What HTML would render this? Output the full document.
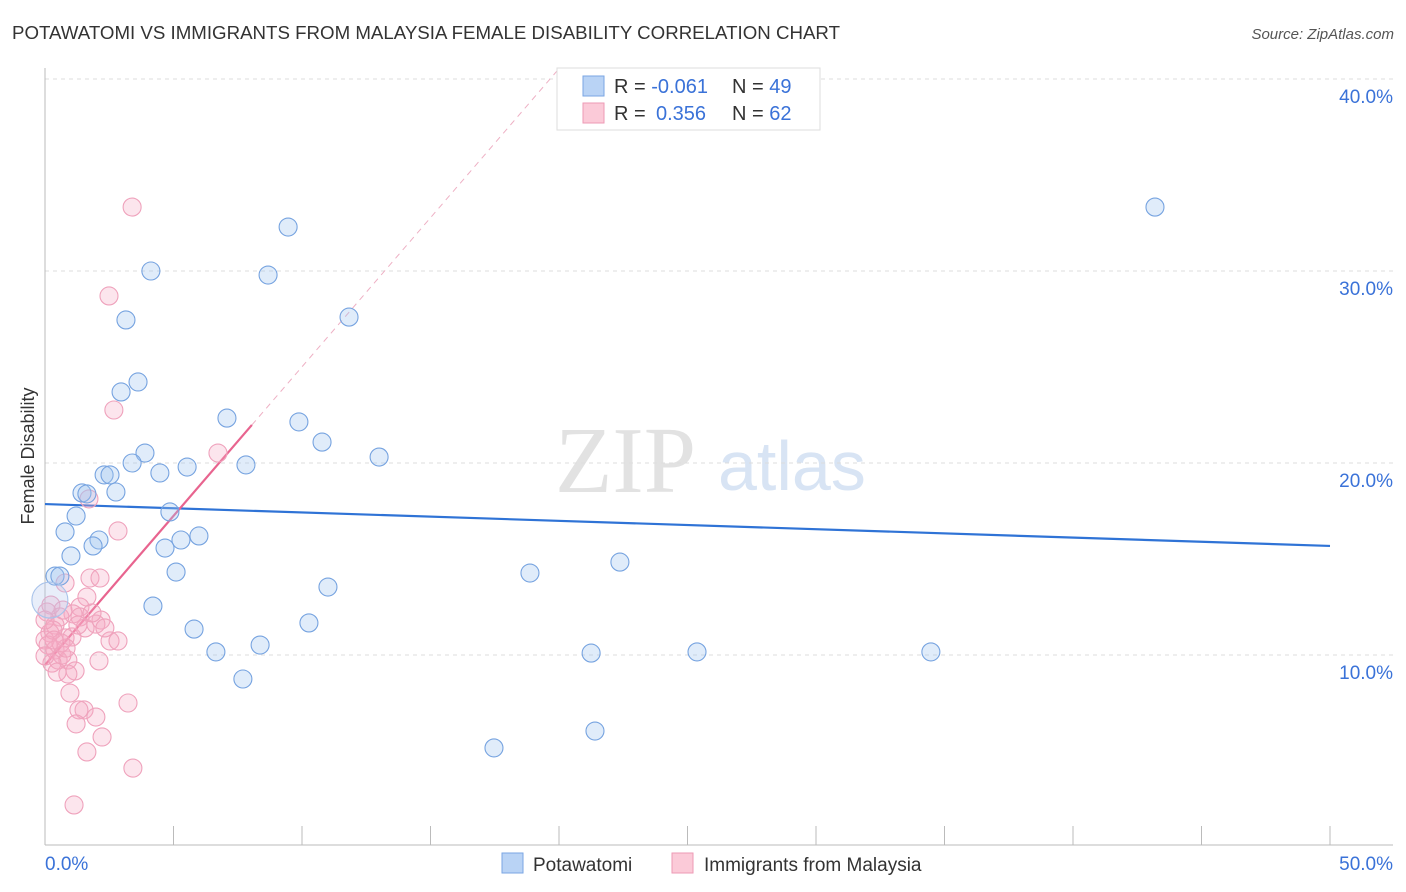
<!DOCTYPE html>
<html><head><meta charset="utf-8"><style>
body{margin:0;background:#fff;font-family:"Liberation Sans",sans-serif;}
svg{display:block}
</style></head><body>
<svg id="chart" width="1406" height="892">
<text x="12" y="39" font-size="18" fill="#333" textLength="828" lengthAdjust="spacingAndGlyphs">POTAWATOMI VS IMMIGRANTS FROM MALAYSIA FEMALE DISABILITY CORRELATION CHART</text>
<text x="1394" y="39" font-size="15" fill="#555" font-style="italic" text-anchor="end">Source: ZipAtlas.com</text>
<text x="555" y="492" font-size="94" fill="#e2e2e2" font-family="Liberation Serif,serif">ZIP</text>
<text x="718" y="490" font-size="70" fill="#d8e4f4">atlas</text>
<text transform="translate(34,456) rotate(-90)" font-size="18" fill="#333" text-anchor="middle">Female Disability</text>
<g id="grid"></g><g id="axes"></g><g id="lines"></g><g id="pts"></g>
<g>
<rect x="557" y="68" width="263" height="62" fill="#fff" stroke="#ddd"/>
<rect x="583" y="76" width="21" height="20" fill="#b9d3f5" stroke="#7aa6e3"/>
<rect x="583" y="103" width="21" height="20" fill="#fbcad8" stroke="#ee9ab5"/>
<text x="614" y="93" font-size="20" fill="#333">R = <tspan fill="#3a72d8">-0.061</tspan><tspan x="732">N = </tspan><tspan fill="#3a72d8">49</tspan></text>
<text x="614" y="120" font-size="20" fill="#333">R = <tspan x="656" fill="#3a72d8">0.356</tspan><tspan x="732">N = </tspan><tspan fill="#3a72d8">62</tspan></text>
</g>
<g>
<rect x="502" y="853" width="21" height="20" fill="#b9d3f5" stroke="#7aa6e3"/>
<text x="533" y="871" font-size="19" fill="#333">Potawatomi</text>
<rect x="672" y="853" width="21" height="20" fill="#fbcad8" stroke="#ee9ab5"/>
<text x="704" y="871" font-size="19" fill="#333">Immigrants from Malaysia</text>
</g>
</svg>
<script>
const xTicks=[0,5,10,15,20,25,30,35,40,45,50];
const yTicks=[10,20,30,40];
const yTickLabels=["10.0%","20.0%","30.0%","40.0%"];
const xTickLabels=["0.0%","50.0%"];
const blueX=[43.19,9.46,4.12,8.68,3.15,11.83,3.62,2.96,7.08,9.88,10.78,3.89,13.0,3.39,7.82,5.53,4.47,2.30,2.53,1.44,1.63,2.76,1.21,4.86,0.78,2.10,1.87,5.29,5.99,4.67,1.01,5.10,0.39,0.58,11.01,18.87,22.37,4.20,10.27,5.80,6.65,8.37,7.70,21.25,25.37,34.47,17.47,21.40,0.19];
const blueY=[33.33,32.29,30.0,29.79,27.45,27.60,24.22,23.70,22.34,22.14,21.09,20.52,20.31,20.0,19.90,19.79,19.48,19.38,19.38,18.44,18.39,18.49,17.24,17.45,16.41,15.99,15.68,15.99,16.20,15.57,15.16,14.32,14.11,14.11,13.54,14.27,14.84,12.55,11.67,11.35,10.16,10.52,8.75,10.10,10.16,10.16,5.16,6.04,12.86];
const pinkX=[3.39,2.49,2.68,6.73,1.71,2.84,0.78,1.75,2.14,1.63,0.23,1.36,1.09,0.58,2.18,1.98,1.56,0.39,0.19,0.78,1.05,0.0,0.12,1.36,2.53,2.84,0.39,0.66,0.51,0.89,0.27,2.10,1.17,0.89,0.97,3.23,1.52,1.32,1.98,1.21,2.22,1.63,3.42,1.13,0.08,0.31,0.62,0.0,0.82,1.83,1.28,0.47,2.33,0.0,0.70,0.35];
const pinkY=[33.33,28.70,22.76,20.52,18.13,16.46,13.75,14.01,14.01,13.02,12.60,12.50,12.14,11.98,11.82,11.61,11.41,11.56,11.15,10.89,10.94,10.78,10.52,11.98,10.73,10.73,10.26,10.0,9.74,9.74,9.58,9.69,9.17,9.01,8.02,7.50,7.14,7.14,6.77,6.41,5.73,4.95,4.11,2.19,12.24,11.30,10.63,9.95,10.36,12.19,11.56,9.11,11.41,11.82,12.34,10.78];
const blueTrend=[17.86,15.68];
const pinkTrend=[9.48,1.553];
const NS="http://www.w3.org/2000/svg";
const sx=v=>45+v*25.7, sy=v=>847-v*19.2;
function mk(p,tag,at){const e=document.createElementNS(NS,tag);for(const k in at)e.setAttribute(k,at[k]);document.getElementById(p).appendChild(e);return e;}
yTicks.forEach((t,i)=>{
 const g=mk('grid','line',{x1:45,x2:1393,y1:sy(t),y2:sy(t),stroke:'#ddd','stroke-dasharray':'4,4'});
 
 
 const l=mk('grid','text',{x:1393,y:sy(t)+24,'font-size':19,fill:'#3a72d8','text-anchor':'end'});
 l.textContent=yTickLabels[i];
 
 
});
mk('axes','line',{x1:45,x2:45,y1:68,y2:845,stroke:'#bbb'});
mk('axes','line',{x1:45,x2:1393,y1:845,y2:845,stroke:'#bbb'});
xTicks.forEach(t=>{const e=mk('axes','line',{x1:sx(t),x2:sx(t),y1:826,y2:845,stroke:'#bbb'});
 
 });
[[0,'start',45],[50,'end',1393]].forEach((a,i)=>{const e=mk('axes','text',{x:a[2],y:870,'font-size':19,fill:'#3a72d8','text-anchor':a[1]});e.textContent=xTickLabels[i];
 
 });
pinkX.forEach((x,i)=>{const c=mk('pts','circle',{cx:sx(x),cy:sy(pinkY[i]),r:9,fill:'rgba(246,170,196,0.3)',stroke:'#efa2bc','stroke-width':1.1});
 
 });
blueX.forEach((x,i)=>{const big=i===blueX.length-1;const c=mk('pts','circle',{cx:sx(x),cy:sy(blueY[i]),r:big?18:9,fill:big?'rgba(180,200,240,0.3)':'rgba(160,196,240,0.33)',stroke:big?'#a9c3ea':'#76a3e0','stroke-width':1.1});
 
 });
const bl=mk('lines','line',{x1:sx(0),y1:sy(blueTrend[0]),x2:sx(50),y2:sy(blueTrend[1]),stroke:'#2f73d6','stroke-width':2.2});


const xEnd=8.05, xMax=(40.5-pinkTrend[0])/pinkTrend[1];
const pl=mk('lines','line',{x1:sx(0),y1:sy(pinkTrend[0]),x2:sx(xEnd),y2:sy(pinkTrend[0]+pinkTrend[1]*xEnd),stroke:'#e8648f','stroke-width':2.2});


const pd=mk('lines','line',{x1:sx(xEnd),y1:sy(pinkTrend[0]+pinkTrend[1]*xEnd),x2:sx(xMax),y2:sy(40.5),stroke:'#eeb0c4','stroke-width':1,'stroke-dasharray':'6,5'});


</script>
</body></html>
